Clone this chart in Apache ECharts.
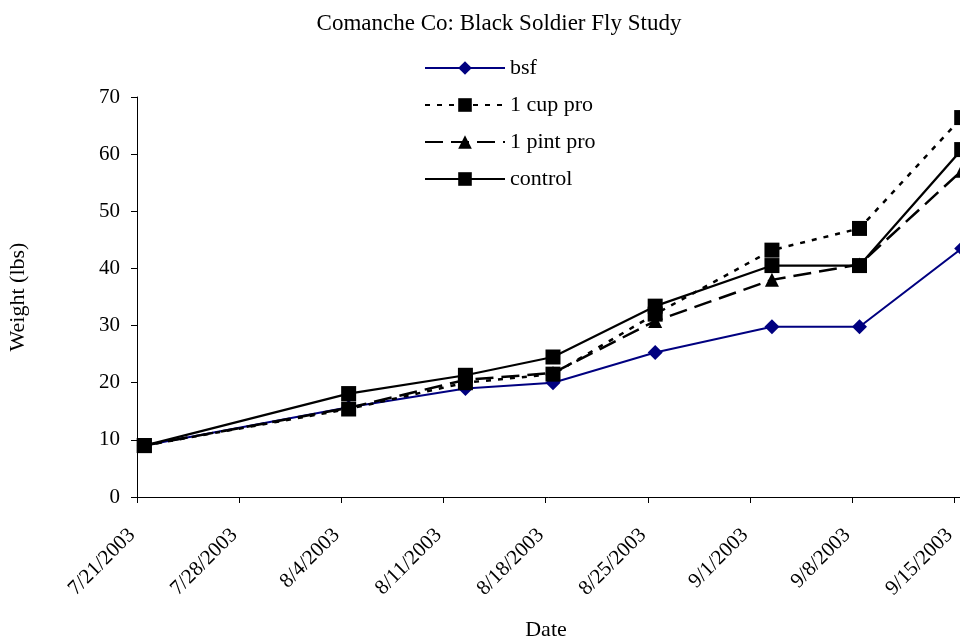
<!DOCTYPE html>
<html>
<head>
<meta charset="utf-8">
<script src="https://cdn.jsdelivr.net/npm/echarts@6/dist/echarts.min.js"></script>
<style>html,body{margin:0;padding:0;background:#fff;}#chart{width:960px;height:643px;}</style>
</head>
<body>
<div id="chart"></div>
<script>
const startDate = '2003-07-21';
const dates = ['2003-07-21', '2003-08-04', '2003-08-12', '2003-08-18', '2003-08-25', '2003-09-02', '2003-09-08', '2003-09-15'];
const seriesNames = ['bsf', '1 cup pro', '1 pint pro', 'control'];
const bsf = [9.0, 15.7, 19.0, 20.0, 25.3, 29.8, 29.8, 43.5];
const cupPro = [9.0, 15.4, 20.0, 21.5, 32.0, 43.2, 47.0, 66.4];
const pintPro = [9.0, 15.6, 20.5, 21.7, 30.8, 38.0, 40.7, 57.1];
const control = [9.0, 18.1, 21.3, 24.5, 33.4, 40.5, 40.5, 60.8];
const yTicks = [0, 10, 20, 30, 40, 50, 60, 70];

const DAY = 86400000;
const t0 = Date.parse(startDate + 'T00:00:00Z');
// Excel date axis places each point in the middle of its day
const dayPos = dates.map(d => (Date.parse(d + 'T00:00:00Z') - t0) / DAY + 0.5);
const pairs = vals => vals.map((v, i) => [dayPos[i], v]);
const fmtDate = v => {
  const d = new Date(t0 + v * DAY);
  return (d.getUTCMonth() + 1) + '/' + d.getUTCDate() + '/' + d.getUTCFullYear();
};

const FONT = 'Liberation Serif, "Times New Roman", serif';
const chart = echarts.init(document.getElementById('chart'), null, {renderer: 'canvas'});
chart.setOption({
  animation: false,
  backgroundColor: '#fff',
  title: {
    text: 'Comanche Co: Black Soldier Fly Study',
    left: 494, top: 7, textAlign: 'center',
    textStyle: {fontFamily: FONT, fontSize: 23, fontWeight: 'normal', color: '#000'}
  },
  legend: {
    orient: 'vertical', left: 419, top: 52,
    itemWidth: 80, itemHeight: 17, itemGap: 15,
    textStyle: {fontFamily: FONT, fontSize: 22, color: '#000'},
    data: seriesNames
  },
  grid: {left: 137, top: 97, height: 400, width: 832, containLabel: false, outerBoundsMode: 'none'},
  xAxis: {
    type: 'value', min: 0, max: 57, interval: 7,
    name: 'Date', nameLocation: 'middle', nameGap: 122,
    nameTextStyle: {fontFamily: FONT, fontSize: 22, color: '#000', padding: [0, 14, 0, 0]},
    axisLine: {show: true, onZero: false, lineStyle: {color: '#000', width: 1}},
    axisTick: {show: true, length: 6, lineStyle: {color: '#000'}},
    axisLabel: {rotate: 45, margin: 30, padding: [0, 7, 0, 0], fontFamily: FONT, fontSize: 21, color: '#000', formatter: fmtDate, showMaxLabel: false},
    splitLine: {show: false}
  },
  yAxis: {
    type: 'value', min: yTicks[0], max: yTicks[yTicks.length - 1], interval: 10,
    name: 'Weight (lbs)', nameLocation: 'middle', nameGap: 108, nameRotate: 90,
    nameTextStyle: {fontFamily: FONT, fontSize: 22, color: '#000'},
    axisLine: {show: true, lineStyle: {color: '#000', width: 1}},
    axisTick: {show: true, length: 6, lineStyle: {color: '#000'}},
    axisLabel: {margin: 17, fontFamily: FONT, fontSize: 21, color: '#000'},
    splitLine: {show: false}
  },
  series: [
    {
      name: seriesNames[0], type: 'line', data: pairs(bsf),
      symbol: 'diamond', symbolSize: 15, showAllSymbol: true,
      lineStyle: {color: '#000080', width: 2, type: 'solid'},
      itemStyle: {color: '#000080'}, z: 2
    },
    {
      name: seriesNames[1], type: 'line', data: pairs(cupPro),
      symbol: 'rect', symbolSize: 15,
      lineStyle: {color: '#000', width: 2.5, type: [5, 7]},
      itemStyle: {color: '#000'}, z: 3
    },
    {
      name: seriesNames[2], type: 'line', data: pairs(pintPro),
      symbol: 'triangle', symbolSize: 14,
      lineStyle: {color: '#000', width: 2.5, type: [18, 8]},
      itemStyle: {color: '#000'}, z: 4
    },
    {
      name: seriesNames[3], type: 'line', data: pairs(control),
      symbol: 'rect', symbolSize: 15,
      lineStyle: {color: '#000', width: 2.2, type: 'solid'},
      itemStyle: {color: '#000'}, z: 5
    }
  ]
});
</script>
</body>
</html>
